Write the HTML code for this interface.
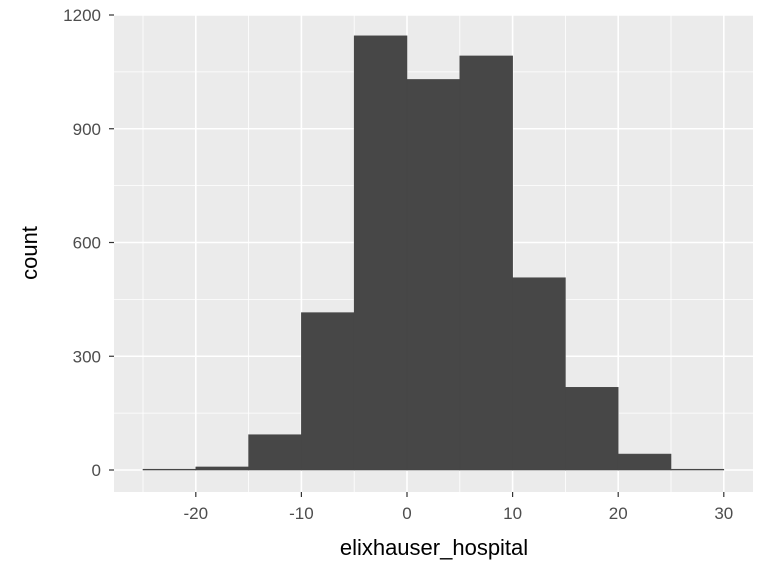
<!DOCTYPE html>
<html>
<head>
<meta charset="utf-8">
<style>
html,body{margin:0;padding:0;background:#fff;}
svg{display:block;font-family:"Liberation Sans",Arial,sans-serif;}
</style>
</head>
<body>
<svg id="chart" width="768" height="576" viewBox="0 0 768 576">
  <rect x="0" y="0" width="768" height="576" fill="#fff"/>
  <g id="panel"></g>
  <g id="bars"></g>
  <g id="axes"></g>
  <text x="434" y="555" font-size="22" text-anchor="middle" fill="#000">elixhauser_hospital</text>
  <text transform="translate(37,253) rotate(-90)" font-size="22" text-anchor="middle" fill="#000">count</text>
</svg>
<script>
const binStarts = [-25,-20,-15,-10,-5,0,5,10,15,20,25];
const counts = [2,8,93,415,1145,1030,1092,507,218,42,2];
const binWidth = 5;
const xTicks = [-20,-10,0,10,20,30];
const yTicks = [0,300,600,900,1200];

const NS = "http://www.w3.org/2000/svg";
const px0 = 114, px1 = 753, py0 = 15, py1 = 492;
function sx(v){ return 407 + v * 10.56; }
function sy(v){ return 470 - v * (455/1200); }
function mk(tag, attrs, parent){
  const e = document.createElementNS(NS, tag);
  for (const k in attrs) e.setAttribute(k, attrs[k]);
  parent.appendChild(e);
  return e;
}
const panel = document.getElementById('panel');
const bars = document.getElementById('bars');
const axes = document.getElementById('axes');

mk('rect',{x:px0,y:py0,width:px1-px0,height:py1-py0,fill:'#ebebeb'},panel);
const xMinor=[xTicks[0]-5];
for (let i=0;i<xTicks.length-1;i++) xMinor.push((xTicks[i]+xTicks[i+1])/2);
xMinor.forEach(v=>{
  const l=mk('line',{x1:sx(v),x2:sx(v),y1:py0,y2:py1,stroke:'#fff','stroke-width':0.8},panel);
  
  
});
for (let i=0;i<yTicks.length-1;i++){
  const v=(yTicks[i]+yTicks[i+1])/2;
  const l=mk('line',{x1:px0,x2:px1,y1:sy(v),y2:sy(v),stroke:'#fff','stroke-width':0.8},panel);
  
  
}
xTicks.forEach(v=>{
  const l=mk('line',{x1:sx(v),x2:sx(v),y1:py0,y2:py1,stroke:'#fff','stroke-width':1.6},panel);
  
  
  const t=mk('line',{x1:sx(v),x2:sx(v),y1:py1,y2:py1+5,stroke:'#333','stroke-width':1.2},axes);
  
  
  const tx=mk('text',{x:sx(v),y:py1+27,'font-size':17,'text-anchor':'middle',fill:'#4d4d4d'},axes);
  tx.textContent=v;
  
  
});
yTicks.forEach(v=>{
  const l=mk('line',{x1:px0,x2:px1,y1:sy(v),y2:sy(v),stroke:'#fff','stroke-width':1.6},panel);
  
  
  const t=mk('line',{x1:px0-5,x2:px0,y1:sy(v),y2:sy(v),stroke:'#333','stroke-width':1.2},axes);
  
  
  const tx=mk('text',{x:px0-13,y:sy(v)+6,'font-size':17,'text-anchor':'end',fill:'#4d4d4d'},axes);
  tx.textContent=v;
  
  
});
binStarts.forEach((s,i)=>{
  const x=sx(s), w=sx(s+binWidth)-x, y=sy(counts[i]);
  const r=mk('rect',{x:x,y:y,width:w,height:sy(0)-y,fill:'#474747',stroke:'#474747','stroke-width':0.6},bars);
  
  
});
</script>
</body>
</html>
